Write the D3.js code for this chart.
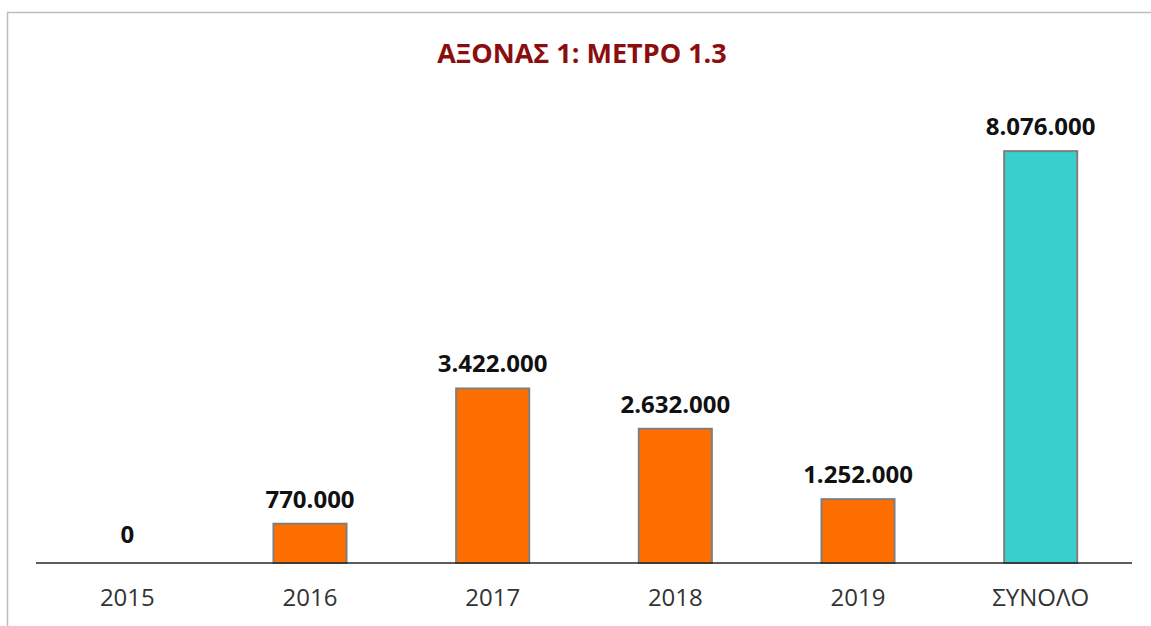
<!DOCTYPE html>
<html>
<head>
<meta charset="utf-8">
<script src="https://cdn.jsdelivr.net/npm/d3@7"></script>
<style>
  body { margin: 0; background: #fff; }
  svg { display: block; }
</style>
</head>
<body>
<div class="chart"></div>
<script>
// chart data
const categories = ["2015", "2016", "2017", "2018", "2019", "ΣΥΝΟΛΟ"];
const values = [0, 770000, 3422000, 2632000, 1252000, 8076000];
const valueLabels = ["0", "770.000", "3.422.000", "2.632.000", "1.252.000", "8.076.000"];
const title = "ΑΞΟΝΑΣ 1: ΜΕΤΡΟ 1.3";

const wdth = 1151;
const hght = 626;
const plot = {left: 36, right: 1132, top: 104, bottom: 563};

const svg = d3.select(".chart")
  .append("svg")
  .attr("width", wdth)
  .attr("height", hght);

// light frame (top + left edge, like the cropped excel box)
svg.append("path")
  .attr("d", "M7.5,626 L7.5,12.5 L1151,12.5")
  .attr("fill", "none")
  .attr("stroke", "#bdbdbd")
  .attr("stroke-width", 1.5);

svg.append("text")
  .attr("x", 582)
  .attr("y", 63)
  .attr("text-anchor", "middle")
  .style("font-family", "'Open Sans', sans-serif")
  .style("font-weight", "bold")
  .style("font-size", "27px")
  .style("fill", "#8b0e0e")
  .text(title);

const x = d3.scaleBand()
  .domain(categories)
  .range([plot.left, plot.right])
  .paddingInner(0.6)
  .paddingOuter(0.3);

const y = d3.scaleLinear()
  .domain([0, 9000000])
  .range([plot.bottom, plot.top]);

const data = categories.map((c, i) => ({cat: c, value: values[i], label: valueLabels[i]}));

svg.selectAll("rect.bar")
  .data(data.filter(d => d.value > 0))
  .enter()
  .append("rect")
  .attr("class", "bar")
  .attr("x", d => x(d.cat))
  .attr("y", d => y(d.value))
  .attr("width", x.bandwidth())
  .attr("height", d => y(0) - y(d.value))
  .attr("fill", d => d.cat === "ΣΥΝΟΛΟ" ? "#38cfcc" : "#ff6f00")
  .attr("stroke", "#7f7f7f")
  .attr("stroke-width", 2);

// baseline
svg.append("line")
  .attr("x1", plot.left)
  .attr("x2", plot.right)
  .attr("y1", y(0))
  .attr("y2", y(0))
  .attr("stroke", "#262626")
  .attr("stroke-width", 1.5);

// value labels
svg.selectAll("text.val")
  .data(data)
  .enter()
  .append("text")
  .attr("class", "val")
  .attr("x", d => x(d.cat) + x.bandwidth() / 2)
  .attr("y", d => y(d.value) - (d.value > 0 ? 16 : 20))
  .attr("text-anchor", "middle")
  .style("font-family", "'Open Sans', sans-serif")
  .style("font-weight", "bold")
  .style("font-size", "24px")
  .style("fill", "#111")
  .text(d => d.label);

// category axis labels
const xAxis = svg.append("g")
  .attr("transform", "translate(0," + y(0) + ")")
  .call(d3.axisBottom(x).tickSize(0).tickPadding(0));
xAxis.select(".domain").remove();
xAxis.selectAll("text")
  .attr("y", 43)
  .attr("dy", 0)
  .style("font-family", "'Open Sans', sans-serif")
  .style("font-size", "24px")
  .style("fill", "#333");
</script>
</body>
</html>
